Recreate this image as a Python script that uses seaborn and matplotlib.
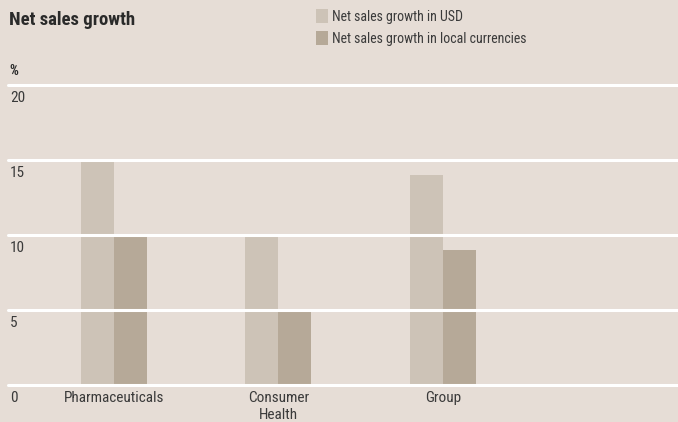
import pandas as pd
import matplotlib.pyplot as plt
import seaborn as sns
from matplotlib.transforms import blended_transform_factory

# values (%)
categories = ["Pharmaceuticals", "Consumer Health", "Group"]
tick_names = ["Pharmaceuticals", "Consumer\nHealth", "Group"]
series = ["Net sales growth in USD", "Net sales growth in local currencies"]
usd_growth = [15.0, 10.0, 14.0]
local_growth = [10.0, 5.0, 9.0]
y_ticks = [0, 5, 10, 15, 20]

bg = "#e6ddd6"
colors = {series[0]: "#cdc3b7", series[1]: "#b6a998"}

df = pd.DataFrame({
    "category": categories * 2,
    "series": [series[0]] * 3 + [series[1]] * 3,
    "growth": usd_growth + local_growth,
})

sns.set_style("white")
plt.rcParams["font.family"] = ["Roboto Condensed", "Liberation Sans Narrow",
                               "Liberation Sans", "DejaVu Sans"]

fig = plt.figure(figsize=(6.78, 4.22), dpi=100, facecolor=bg)
ax = fig.add_axes([8 / 678, 36.7 / 422, 670 / 678, 300 / 422])
ax.set_facecolor(bg)

sns.barplot(df, x="category", y="growth", hue="series", palette=colors,
            width=0.4, saturation=1, linewidth=0, ax=ax, zorder=2, legend=True)

ax.set_xlim(-0.642, 3.426)
ax.set_ylim(0, 20)
for s in ax.spines.values():
    s.set_visible(False)

# white grid lines sit on top of the bars
for t in y_ticks:
    ax.axhline(t, color="white", lw=2.2, zorder=3, clip_on=False)

# y labels under each grid line
tr = blended_transform_factory(ax.transAxes, ax.transData)
ax.set_yticks([])
for t in y_ticks:
    ax.text(0.003, t - 0.4, str(t), transform=tr, ha="left", va="top",
            fontsize=11, color="#3a3a3a")

ax.set_xticks(range(len(categories)))
ax.set_xticklabels(tick_names, fontsize=11, color="#3a3a3a", linespacing=1.3)
ax.tick_params(axis="x", length=0, pad=4)
ax.set_xlabel("")
ax.set_ylabel("")

# legend top right
handles, labels = ax.get_legend_handles_labels()
ax.get_legend().remove()
fig.legend(handles, labels, loc="upper left", bbox_to_anchor=(316 / 678, 1 - 9 / 422),
           frameon=False, fontsize=10, handlelength=0.88, handleheight=1.15,
           handletextpad=0.3, labelspacing=0.55, borderpad=0, borderaxespad=0,
           labelcolor="#3a3a3a")

fig.text(9 / 678, 1 - 11 / 422, "Net sales growth", fontsize=13.5, fontweight="bold",
         ha="left", va="top", color="#2a2a2a")
fig.text(9 / 678, 1 - 64 / 422, "%", fontsize=10, fontweight="bold",
         ha="left", va="top", color="#2a2a2a")

fig.savefig("out.png", dpi=100, facecolor=bg)
